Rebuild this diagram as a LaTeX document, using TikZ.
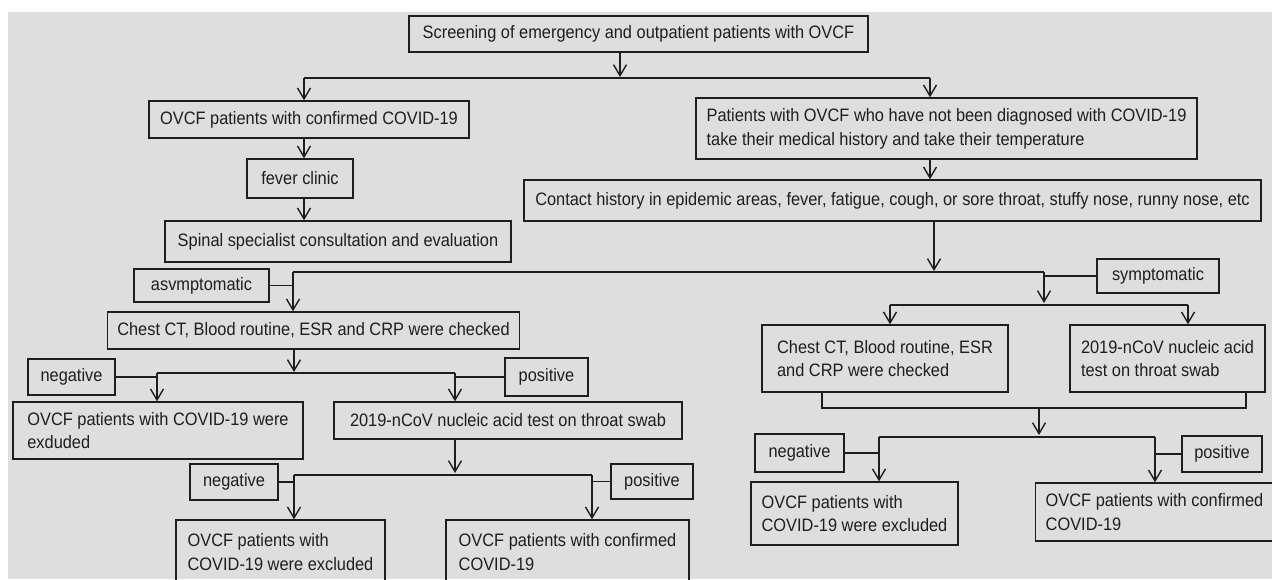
\documentclass[tikz,border=0pt]{standalone}
\usepackage{fontspec}
\setmainfont{Liberation Sans}[FakeStretch=0.91]
\usetikzlibrary{arrows.meta}
\definecolor{bg}{RGB}{222,222,222}
\definecolor{ink}{RGB}{30,30,30}
\tikzset{
  bx/.style={draw=ink, line width=0.7pt, inner xsep=5pt, inner ysep=1pt, align=left,
    font=\fontsize{9pt}{11.9pt}\selectfont, text=ink},
  arr/.style={draw=ink, line width=0.7pt, -{Straight Barb[length=5.5pt,width=6.5pt,line width=0.7pt]}},
  ln/.style={draw=ink, line width=0.7pt}
}
\newcommand\bx[6]{\node[bx, minimum width={(#4-#2)*0.5pt}, minimum height={(#5-#3)*0.5pt}]
  (#1) at ({(#2+#4)/2},{(#3+#5)/2}) {#6};}
\begin{document}
\begin{tikzpicture}[x=0.5pt,y=-0.5pt]
\useasboundingbox (0,0) rectangle (1272,579);
\fill[white] (0,0) rectangle (1272,579);
\fill[bg] (8,12) rectangle (1272,579);
% boxes
\bx{top}{409}{16}{868}{52}{Screening of emergency and outpatient patients with OVCF}
\bx{conf}{149}{101}{469}{138}{OVCF patients with confirmed COVID-19}
\bx{fever}{247}{159}{353}{198}{fever clinic}
\bx{spinal}{165}{221}{511}{262}{Spinal specialist consultation and evaluation}
\bx{nd}{696}{98}{1197}{159}{Patients with OVCF who have not been diagnosed with COVID-19\\take their medical history and take their temperature}
\bx{contact}{524}{180}{1261}{221}{Contact history in epidemic areas, fever, fatigue, cough, or sore throat, stuffy nose, runny nose, etc}
\bx{asym}{134}{269}{269}{302}{asvmptomatic}
\bx{sym}{1097}{259}{1219}{293}{symptomatic}
\bx{ctL}{116}{312}{511}{349}{Chest CT, Blood routine, ESR and CRP were checked}
\bx{negL}{28}{359}{115}{395}{negative}
\bx{posL}{505}{358}{588}{396}{positive}
\bx{exL}{13}{402}{303}{459}{OVCF patients with COVID-19 were\\exduded}
\bx{nuL}{334}{402}{682}{439}{2019-nCoV nucleic acid test on throat swab}
\bx{negL2}{190}{464}{278}{500}{negative}
\bx{posL2}{611}{464}{693}{499}{positive}
\bx{exL2}{176}{520}{385}{584}{OVCF patients with\\COVID-19 were excluded}
\bx{cfL2}{446}{520}{689}{584}{OVCF patients with confirmed\\COVID-19}
\bx{ctR}{762}{325}{1008}{392}{Chest CT, Blood routine, ESR\\and CRP were checked}
\bx{nuR}{1070}{325}{1265}{392}{2019-nCoV nucleic acid\\test on throat swab}
\bx{negR}{755}{434}{844}{472}{negative}
\bx{posR}{1182}{436}{1262}{472}{positive}
\bx{exR}{751}{482}{958}{545}{OVCF patients with\\COVID-19 were excluded}
\bx{cfR}{1038}{483}{1271}{541}{OVCF patients with confirmed\\COVID-19}
% connectors: top split
\coordinate (a1) at (620,77);
\draw[arr] (top.south -| a1) -- (a1);
\coordinate (h1L) at (304,78); \coordinate (h1R) at (930,78);
\draw[ln] (h1L) -- (h1R);
\draw[arr] (h1L) -- (conf.north -| h1L);
\draw[arr] (h1R) -- (nd.north -| h1R);
\draw[arr] (conf.south -| h1L) -- (fever.north -| h1L);
\draw[arr] (fever.south -| h1L) -- (spinal.north -| h1L);
\draw[arr] (nd.south -| h1R) -- (contact.north -| h1R);
% asymptomatic / symptomatic split
\coordinate (a2) at (934,271);
\draw[arr] (contact.south -| a2) -- (a2);
\coordinate (h2L) at (293,272); \coordinate (h2R) at (1044,272);
\draw[ln] (h2L) -- (h2R);
\draw[ln] (asym.east) -- (asym.east -| h2L);
\draw[arr] (h2L) -- (ctL.north -| h2L);
\draw[ln] (sym.west) -- (sym.west -| h2R);
\coordinate (a3) at (1044,303);
\draw[arr] (h2R) -- (a3);
\coordinate (h3L) at (890,305); \coordinate (h3R) at (1188,305);
\draw[ln] (h3L) -- (h3R);
\draw[arr] (h3L) -- (ctR.north -| h3L);
\draw[arr] (h3R) -- (nuR.north -| h3R);
% left lower
\coordinate (a4) at (294,372);
\draw[arr] (ctL.south -| a4) -- (a4);
\coordinate (h4L) at (157,373); \coordinate (h4R) at (455,373);
\draw[ln] (h4L) -- (h4R);
\draw[ln] (negL.east) -- (negL.east -| h4L);
\draw[ln] (posL.west) -- (posL.west -| h4R);
\draw[arr] (h4L) -- (exL.north -| h4L);
\draw[arr] (h4R) -- (nuL.north -| h4R);
\coordinate (a5) at (455,473);
\draw[arr] (nuL.south -| a5) -- (a5);
\coordinate (h5L) at (294,475); \coordinate (h5R) at (592,475);
\draw[ln] (h5L) -- (h5R);
\draw[ln] (negL2.east) -- (negL2.east -| h5L);
\draw[ln] (posL2.west) -- (posL2.west -| h5R);
\draw[arr] (h5L) -- (exL2.north -| h5L);
\draw[arr] (h5R) -- (cfL2.north -| h5R);
% right lower
\coordinate (h6L) at (822,408); \coordinate (h6R) at (1246,408);
\draw[ln] (ctR.south -| h6L) -- (h6L) -- (h6R) -- (nuR.south -| h6R);
\coordinate (a6) at (1039,435);
\draw[arr] (h6L -| a6) -- (a6);
\coordinate (h7L) at (879,437); \coordinate (h7R) at (1155,437);
\draw[ln] (h7L) -- (h7R);
\draw[ln] (negR.east) -- (negR.east -| h7L);
\draw[ln] (posR.west) -- (posR.west -| h7R);
\draw[arr] (h7L) -- (exR.north -| h7L);
\draw[arr] (h7R) -- (cfR.north -| h7R);
\end{tikzpicture}
\end{document}
